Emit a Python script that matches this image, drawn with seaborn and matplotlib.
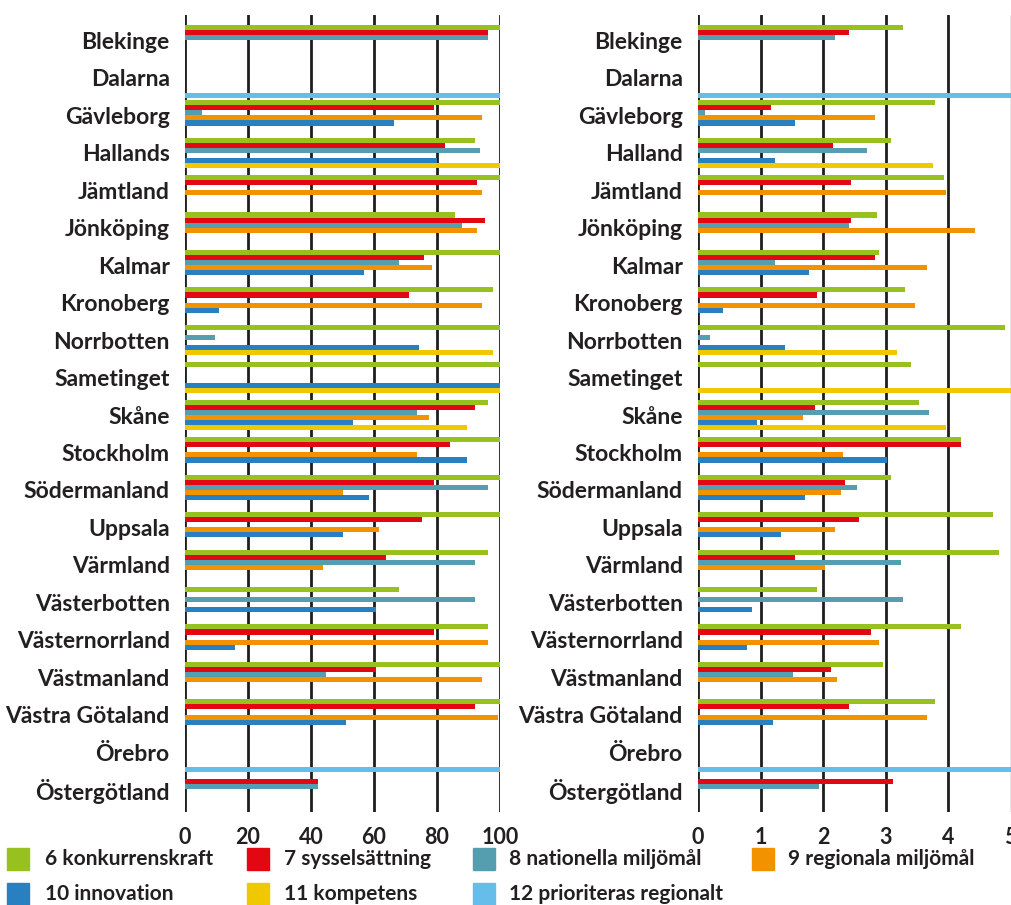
import matplotlib
matplotlib.use("Agg")
import matplotlib.pyplot as plt
import seaborn as sns
import numpy as np
import pandas as pd

nan = np.nan

regions_left = ["Blekinge", "Dalarna", "Gävleborg", "Hallands", "Jämtland", "Jönköping",
                "Kalmar", "Kronoberg", "Norrbotten", "Sametinget", "Skåne", "Stockholm",
                "Södermanland", "Uppsala", "Värmland", "Västerbotten", "Västernorrland",
                "Västmanland", "Västra Götaland", "Örebro", "Östergötland"]
regions_right = ["Blekinge", "Dalarna", "Gävleborg", "Halland", "Jämtland", "Jönköping",
                 "Kalmar", "Kronoberg", "Norrbotten", "Sametinget", "Skåne", "Stockholm",
                 "Södermanland", "Uppsala", "Värmland", "Västerbotten", "Västernorrland",
                 "Västmanland", "Västra Götaland", "Örebro", "Östergötland"]

series = ["6 konkurrenskraft", "7 sysselsättning", "8 nationella miljömål",
          "9 regionala miljömål", "10 innovation", "11 kompetens", "12 prioriteras regionalt"]
colors = ["#97C11F", "#E30613", "#559EB0", "#F39200", "#2880C0", "#F0C800", "#66BDEA"]

# Left panel (percent, 0-100)
left_s6 = [100, nan, 100, 92.1, 100, 85.7, 100, 97.8, 100, 100, 96.2, 100, 100, 100, 96.2, 67.9, 96.2, 100, 100, nan, nan]
left_s7 = [96.2, nan, 79.0, 82.5, 92.7, 95.2, 75.9, 71.1, nan, nan, 92.1, 84.1, 79.0, 75.2, 63.8, nan, 79.0, 60.6, 92.1, nan, 42.2]
left_s8 = [96.2, nan, 5.4, 93.7, nan, 87.9, 67.9, nan, 9.5, nan, 73.7, nan, 96.2, nan, 92.1, 92.1, nan, 44.8, nan, nan, 42.2]
left_s9 = [nan, nan, 94.3, nan, 94.3, 92.7, 78.4, 94.3, nan, nan, 77.5, 73.7, 50.1, 61.6, 43.8, nan, 96.2, 94.3, 99.4, nan, nan]
left_s10 = [nan, nan, 66.3, 80.0, nan, nan, 56.8, 10.8, 74.3, 100, 53.3, 89.5, 58.4, 50.1, nan, 60.6, 15.9, nan, 51.1, nan, nan]
left_s11 = [nan, nan, nan, 100, nan, nan, nan, nan, 97.8, 100, 89.5, nan, nan, nan, nan, nan, nan, nan, nan, nan, nan]
left_s12 = [nan, 100, nan, nan, nan, nan, nan, nan, nan, nan, nan, nan, nan, nan, nan, nan, nan, nan, nan, 100, nan]

# Right panel (0-5)
right_s6 = [3.28, nan, 3.79, 3.08, 3.93, 2.86, 2.89, 3.31, 4.91, 3.41, 3.53, 4.21, 3.08, 4.72, 4.82, 1.90, 4.21, 2.96, 3.79, nan, nan]
right_s7 = [2.42, nan, 1.16, 2.16, 2.45, 2.45, 2.83, 1.90, nan, nan, 1.87, 4.21, 2.35, 2.57, 1.55, nan, 2.77, 2.13, 2.42, nan, 3.12]
right_s8 = [2.19, nan, 0.11, 2.70, nan, 2.41, 1.23, nan, 0.19, nan, 3.69, nan, 2.54, nan, 3.25, 3.28, nan, 1.52, nan, nan, 1.94]
right_s9 = [nan, nan, 2.83, nan, 3.96, 4.43, 3.66, 3.47, nan, nan, 1.68, 2.32, 2.29, 2.19, 2.03, nan, 2.89, 2.22, 3.66, nan, nan]
right_s10 = [nan, nan, 1.55, 1.23, nan, nan, 1.77, 0.40, 1.39, nan, 0.94, 3.02, 1.71, 1.32, nan, 0.86, 0.78, nan, 1.20, nan, nan]
right_s11 = [nan, nan, nan, 3.76, nan, nan, nan, nan, 3.19, 5.0, 3.96, nan, nan, nan, nan, nan, nan, nan, nan, nan, nan]
right_s12 = [nan, 5.0, nan, nan, nan, nan, nan, nan, nan, nan, nan, nan, nan, nan, nan, nan, nan, nan, nan, 5.0, nan]

left_ticks = [0, 20, 40, 60, 80, 100]
right_ticks = [0, 1, 2, 3, 4, 5]


def long_frame(regions, cols):
    rows = []
    for s, vals in zip(series, cols):
        for r, v in zip(regions, vals):
            if not np.isnan(v):
                rows.append({"region": r, "series": s, "value": v})
    return pd.DataFrame(rows)


df_left = long_frame(regions_left, [left_s6, left_s7, left_s8, left_s9, left_s10, left_s11, left_s12])
df_right = long_frame(regions_right, [right_s6, right_s7, right_s8, right_s9, right_s10, right_s11, right_s12])

sns.set_style("white")
plt.rcParams["font.family"] = ["Lato", "DejaVu Sans"]
textc = "#231F20"

W, H = 1011, 905
fig = plt.figure(figsize=(W / 100, H / 100), dpi=100)

top_px, bot_px = 15, 812
c0, step = 43, 37.45
ylim = ((bot_px - c0) / step, (top_px - c0) / step)
label_offset = -2.5 / step  # labels sit slightly above the bar-group centres


def make_ax(x0, x1, df, regions, ticks, xmax, edge_color):
    ax = fig.add_axes([x0 / W, 1 - bot_px / H, (x1 - x0) / W, (bot_px - top_px) / H])
    sns.barplot(data=df, y="region", x="value", hue="series", order=regions,
                hue_order=series, palette=colors, orient="h", width=0.95,
                dodge=True, saturation=1, ax=ax, legend=False, linewidth=0, zorder=3)
    ax.set_xlim(0, xmax)
    ax.set_ylim(*ylim)
    ax.set_xticks(ticks)
    ax.set_xticklabels([str(t) for t in ticks], fontsize=15.5, fontweight="bold", color=textc)
    ax.set_yticks(np.arange(len(regions)) + label_offset)
    ax.set_yticklabels(regions, fontsize=16.5, fontweight="bold", color=textc)
    ax.tick_params(axis="y", length=0, pad=11)
    ax.tick_params(axis="x", length=6, width=1.5, color=textc, pad=5, direction="out")
    ax.set_xlabel("")
    ax.set_ylabel("")
    for sp in ax.spines.values():
        sp.set_visible(False)
    for t in ticks:
        if t == xmax and edge_color is not None:
            ax.axvline(t, color=edge_color, lw=1.0, zorder=1)
        else:
            ax.axvline(t, color="#1e1e1e", lw=2.0, zorder=1)
    return ax


ax1 = make_ax(185, 500, df_left, regions_left, left_ticks, 100, None)
ax2 = make_ax(698, 1010.5, df_right, regions_right, right_ticks, 5, "#808080")

# Legend
legend_cols = [(7, 45), (247, 284), (473, 509), (752, 788)]
rows_y = [859, 894]
for i, (s, c) in enumerate(zip(series, colors)):
    r, col = divmod(i, 4)
    sx, tx = legend_cols[col]
    y = rows_y[r]
    fig.patches.append(plt.Rectangle((sx / W, 1 - (y + 11) / H), 22 / W, 22 / H,
                                     transform=fig.transFigure, color=c, zorder=5))
    fig.text(tx / W, 1 - y / H, s, fontsize=15, fontweight="bold", color=textc,
             va="center", ha="left")

fig.savefig("out.png", dpi=100)
